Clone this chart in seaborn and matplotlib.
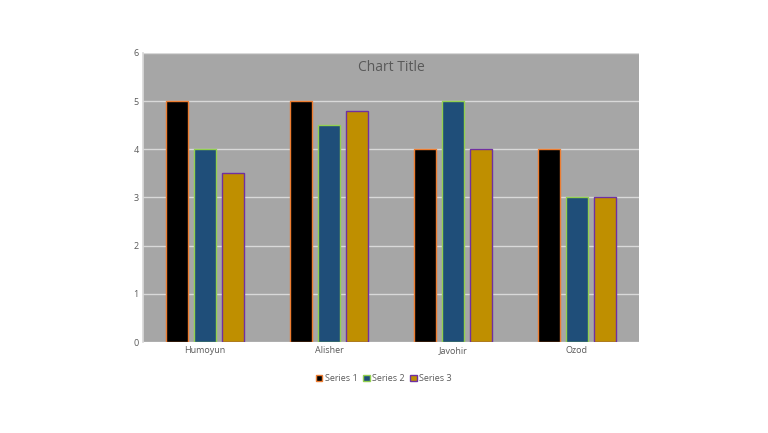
import pandas as pd
import numpy as np
import matplotlib
matplotlib.use('Agg')
import matplotlib.pyplot as plt
import seaborn as sns
from matplotlib.patches import Patch

# data
names = ['Humoyun', 'Alisher', 'Javohir', 'Ozod']
series_1 = [5, 5, 4, 4]
series_2 = [4, 4.5, 5, 3]
series_3 = [3.5, 4.8, 4, 3]
series_names = ['Series 1', 'Series 2', 'Series 3']

fills = ['#000000', '#1F4E79', '#BF8F00']
edges = ['#ED7D31', '#92D050', '#7030A0']

df = pd.DataFrame({
    'name': names * 3,
    'value': series_1 + series_2 + series_3,
    'series': [s for s in series_names for _ in names],
})

sns.set_theme(style='white')
plt.rcParams['font.family'] = ['Open Sans', 'DejaVu Sans']

fig = plt.figure(figsize=(7.68, 4.33), dpi=100)
ax = fig.add_axes([0.186, 0.21, 0.646, 0.668])
ax.set_facecolor('#A6A6A6')

sns.barplot(data=df, x='name', y='value', hue='series', palette=fills,
            width=0.68, gap=0.22, ax=ax, legend=False, saturation=1)

for cont, ec in zip(ax.containers, edges):
    for bar in cont:
        bar.set_edgecolor(ec)
        bar.set_linewidth(1.0)

ax.set_ylim(0, 6)
ax.set_xlim(-0.5, 3.5)
ax.set_yticks(range(7))
ax.yaxis.grid(True, color='#D9D9D9', linewidth=1)
ax.set_axisbelow(True)
ax.tick_params(axis='both', labelsize=6.5, colors='#595959', length=0, pad=3)
ax.set_xlabel('')
ax.set_ylabel('')
for side in ['top', 'right', 'bottom']:
    ax.spines[side].set_visible(False)
ax.spines['left'].set_color('#D9D9D9')

ax.text(0.5, 0.975, 'Chart Title', transform=ax.transAxes, ha='center', va='top',
        fontsize=10, color='#595959')

handles = [Patch(facecolor=f, edgecolor=e, linewidth=1.0, label=s)
           for f, e, s in zip(fills, edges, series_names)]
fig.legend(handles=handles, loc='center', bbox_to_anchor=(0.5, 0.125), ncol=3,
           frameon=False, fontsize=6.5, handlelength=0.7, handleheight=0.7,
           handletextpad=0.3, columnspacing=0.6, labelcolor='#595959')

plt.savefig('out.png', dpi=100)
